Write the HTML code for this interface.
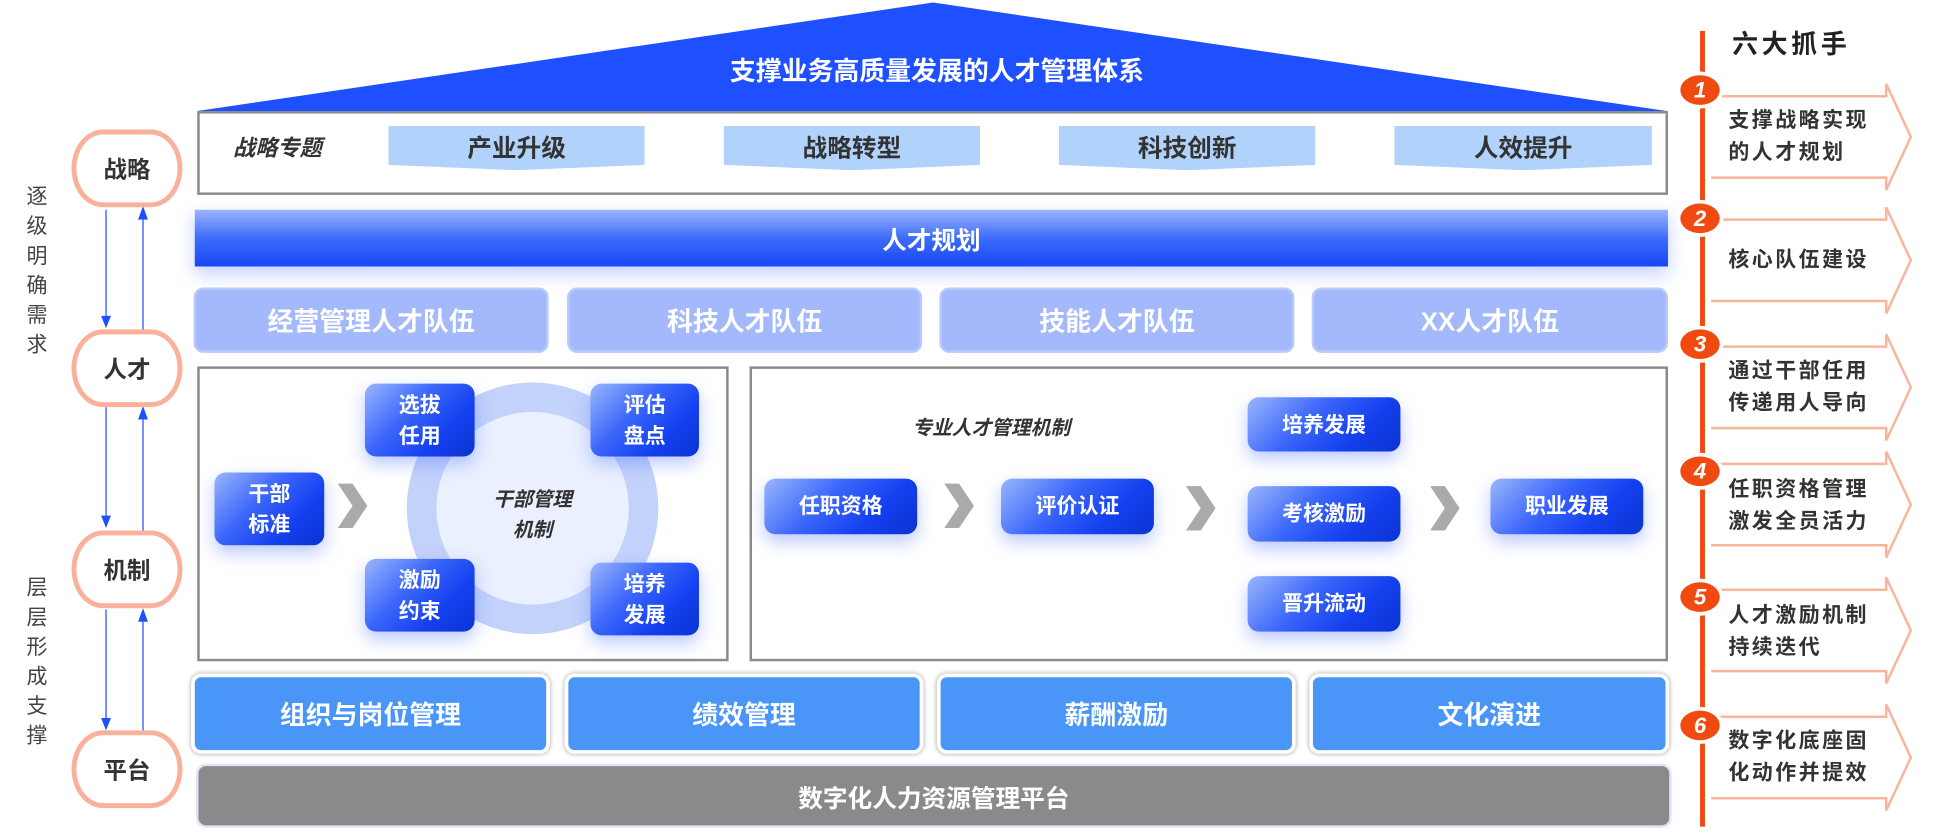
<!DOCTYPE html>
<html><head><meta charset="utf-8"><style>
html,body{margin:0;padding:0;width:1933px;height:834px;overflow:hidden;background:#fff}
#s{position:absolute;left:0;top:0;width:1568px;height:676px;transform-origin:0 0;transform:scale(1.2328,1.2337);font-family:"Liberation Sans","Noto Sans CJK SC",sans-serif}
.a{position:absolute;box-sizing:border-box}
.c{display:flex;align-items:center;justify-content:center;text-align:center}
.box{border:2px solid #8a8a8a;background:#fff}
.ban{background:#b1d2fb;color:#333;font-weight:bold;font-size:20px;clip-path:polygon(0 0,100% 0,100% 88%,50% 100%,0 88%)}
.team{background:#a3b9fb;color:#fff;font-weight:bold;font-size:21px;border-radius:8px;border:2px solid #b8caf9}
.btn{background:linear-gradient(135deg,#9ab6fb 0%,#3a66fb 40%,#1540f0 70%,#0a34d0 100%);color:#fff;font-weight:bold;font-size:17px;border-radius:9px;box-shadow:0 6px 14px rgba(60,100,255,.35);line-height:25px}
.bot{background:#4a96f8;color:#fff;font-weight:bold;font-size:21px;border-radius:8px;border:3px solid #fff;box-shadow:0 0 4px rgba(0,0,0,.35)}
.pill{border:4px solid #f9b19c;border-radius:26px/32px;background:#fff;color:#333;font-weight:bold;font-size:19px}
.vt{color:#444;font-size:17px;width:20px;line-height:24px;text-align:center}
.it{font-style:italic;font-weight:bold;color:#333}
.rt{color:#333;font-weight:bold;font-size:17px;line-height:26px;letter-spacing:2px}
.num{width:38px;height:30px;border-radius:50%;background:#f04a10;color:#fff;font-weight:bold;font-style:italic;font-size:18px;border:3px solid #fff}
</style></head><body><div id="s">
<svg class="a" style="left:0;top:0" width="1568" height="676">
<polygon points="160,90 757,2 1352,90" fill="#1e50ff"/>
<line x1="86" y1="170" x2="86" y2="262" stroke="#1e50ff" stroke-width="1"/><polygon points="82,256 90,256 86,266" fill="#1e50ff"/>
<line x1="116" y1="178" x2="116" y2="268" stroke="#1e50ff" stroke-width="1"/><polygon points="112,178 120,178 116,167" fill="#1e50ff"/>
<line x1="86" y1="330" x2="86" y2="424" stroke="#1e50ff"/><polygon points="82,418 90,418 86,428" fill="#1e50ff"/>
<line x1="116" y1="340" x2="116" y2="430" stroke="#1e50ff"/><polygon points="112,340 120,340 116,329" fill="#1e50ff"/>
<line x1="86" y1="494" x2="86" y2="588" stroke="#1e50ff"/><polygon points="82,582 90,582 86,592" fill="#1e50ff"/>
<line x1="116" y1="504" x2="116" y2="594" stroke="#1e50ff"/><polygon points="112,504 120,504 116,493" fill="#1e50ff"/>
<line x1="1381" y1="25" x2="1381" y2="670" stroke="#f04a10" stroke-width="4"/>
<g fill="none" stroke="#f9b49c" stroke-width="2">
<polyline points="1388,78 1530,78 1530,68 1550,111 1530,154 1530,144 1388,144"/>
<polyline points="1388,178 1530,178 1530,168 1550,211 1530,254 1530,244 1388,244"/>
<polyline points="1388,281 1530,281 1530,271 1550,314 1530,357 1530,347 1388,347"/>
<polyline points="1388,376 1530,376 1530,366 1550,409 1530,452 1530,442 1388,442"/>
<polyline points="1388,478 1530,478 1530,468 1550,511 1530,554 1530,544 1388,544"/>
<polyline points="1388,581 1530,581 1530,571 1550,614 1530,657 1530,647 1388,647"/>
</g>
<circle cx="432" cy="412" r="90" fill="none" stroke="#c3d2fb" stroke-width="24"/>
<circle cx="432" cy="412" r="78" fill="#eaf0fe"/>
<g fill="#aaa">
<polygon points="274,392 286,392 298,410 286,428 274,428 286,410"/>
<polygon points="766,392 778,392 790,410 778,428 766,428 778,410"/>
<polygon points="962,394 974,394 986,412 974,430 962,430 974,412"/>
<polygon points="1160,394 1172,394 1184,412 1172,430 1160,430 1172,412"/>
</g>
</svg>
<div class="a c" style="left:400px;top:40px;width:720px;height:34px;color:#fff;font-weight:bold;font-size:21px">支撑业务高质量发展的人才管理体系</div>
<div class="a box" style="left:160px;top:90px;width:1193px;height:68px"></div>
<div class="a it" style="left:189px;top:106px;font-size:18px">战略专题</div>
<div class="a c ban" style="left:315px;top:102px;width:208px;height:36px;padding-bottom:4px">产业升级</div>
<div class="a c ban" style="left:587px;top:102px;width:208px;height:36px;padding-bottom:4px">战略转型</div>
<div class="a c ban" style="left:859px;top:102px;width:208px;height:36px;padding-bottom:4px">科技创新</div>
<div class="a c ban" style="left:1131px;top:102px;width:209px;height:36px;padding-bottom:4px">人效提升</div>
<div class="a c" style="left:158px;top:170px;width:1195px;height:46px;background:linear-gradient(180deg,#9bb5fb 0%,#3d6cfb 50%,#1746f5 100%);color:#fff;font-weight:bold;font-size:20px;box-shadow:0 6px 14px rgba(80,120,255,.35)">人才规划</div>
<div class="a c team" style="left:157px;top:233px;width:288px;height:53px">经营管理人才队伍</div>
<div class="a c team" style="left:460px;top:233px;width:288px;height:53px">科技人才队伍</div>
<div class="a c team" style="left:762px;top:233px;width:288px;height:53px">技能人才队伍</div>
<div class="a c team" style="left:1064px;top:233px;width:289px;height:53px">XX人才队伍</div>
<div class="a box" style="left:160px;top:297px;width:431px;height:239px;background:transparent"></div>
<div class="a box" style="left:608px;top:297px;width:745px;height:239px;background:transparent"></div>
<div class="a c it" style="left:377px;top:393px;width:110px;font-size:16px;line-height:25px">干部管理<br>机制</div>
<div class="a c btn" style="left:174px;top:383px;width:89px;height:59px">干部<br>标准</div>
<div class="a c btn" style="left:296px;top:311px;width:89px;height:59px">选拔<br>任用</div>
<div class="a c btn" style="left:479px;top:311px;width:88px;height:59px">评估<br>盘点</div>
<div class="a c btn" style="left:296px;top:453px;width:89px;height:59px">激励<br>约束</div>
<div class="a c btn" style="left:479px;top:456px;width:88px;height:59px">培养<br>发展</div>
<div class="a it" style="left:740px;top:333px;font-size:16px">专业人才管理机制</div>
<div class="a c btn" style="left:620px;top:388px;width:124px;height:45px">任职资格</div>
<div class="a c btn" style="left:812px;top:388px;width:124px;height:45px">评价认证</div>
<div class="a c btn" style="left:1012px;top:322px;width:124px;height:44px">培养发展</div>
<div class="a c btn" style="left:1012px;top:394px;width:124px;height:45px">考核激励</div>
<div class="a c btn" style="left:1012px;top:467px;width:124px;height:45px">晋升流动</div>
<div class="a c btn" style="left:1209px;top:388px;width:124px;height:45px">职业发展</div>
<div class="a c bot" style="left:155px;top:546px;width:291px;height:65px">组织与岗位管理</div>
<div class="a c bot" style="left:458px;top:546px;width:291px;height:65px">绩效管理</div>
<div class="a c bot" style="left:760px;top:546px;width:291px;height:65px">薪酬激励</div>
<div class="a c bot" style="left:1062px;top:546px;width:292px;height:65px">文化演进</div>
<div class="a c" style="left:159px;top:619px;width:1197px;height:52px;background:#8a8a8a;border-radius:8px;border:2px solid #dfe6fb;color:#fff;font-weight:bold;font-size:20px;box-sizing:border-box">数字化人力资源管理平台</div>
<div class="a c pill" style="left:58px;top:105px;width:90px;height:63px">战略</div>
<div class="a c pill" style="left:58px;top:267px;width:90px;height:63px">人才</div>
<div class="a c pill" style="left:58px;top:430px;width:90px;height:63px">机制</div>
<div class="a c pill" style="left:58px;top:592px;width:90px;height:63px">平台</div>
<div class="a vt" style="left:20px;top:148px">逐<br>级<br>明<br>确<br>需<br>求</div>
<div class="a vt" style="left:20px;top:465px">层<br>层<br>形<br>成<br>支<br>撑</div>
<div class="a" style="left:1405px;top:20px;font-weight:bold;font-size:21px;color:#222;letter-spacing:3px">六大抓手</div>
<div class="a c num" style="left:1360px;top:58px">1</div>
<div class="a c num" style="left:1360px;top:162px">2</div>
<div class="a c num" style="left:1360px;top:264px">3</div>
<div class="a c num" style="left:1360px;top:367px">4</div>
<div class="a c num" style="left:1360px;top:469px">5</div>
<div class="a c num" style="left:1360px;top:573px">6</div>
<div class="a rt" style="left:1402px;top:85px">支撑战略实现<br>的人才规划</div>
<div class="a rt" style="left:1402px;top:198px">核心队伍建设</div>
<div class="a rt" style="left:1402px;top:288px">通过干部任用<br>传递用人导向</div>
<div class="a rt" style="left:1402px;top:384px">任职资格管理<br>激发全员活力</div>
<div class="a rt" style="left:1402px;top:486px">人才激励机制<br>持续迭代</div>
<div class="a rt" style="left:1402px;top:588px">数字化底座固<br>化动作并提效</div>
</div></body></html>
